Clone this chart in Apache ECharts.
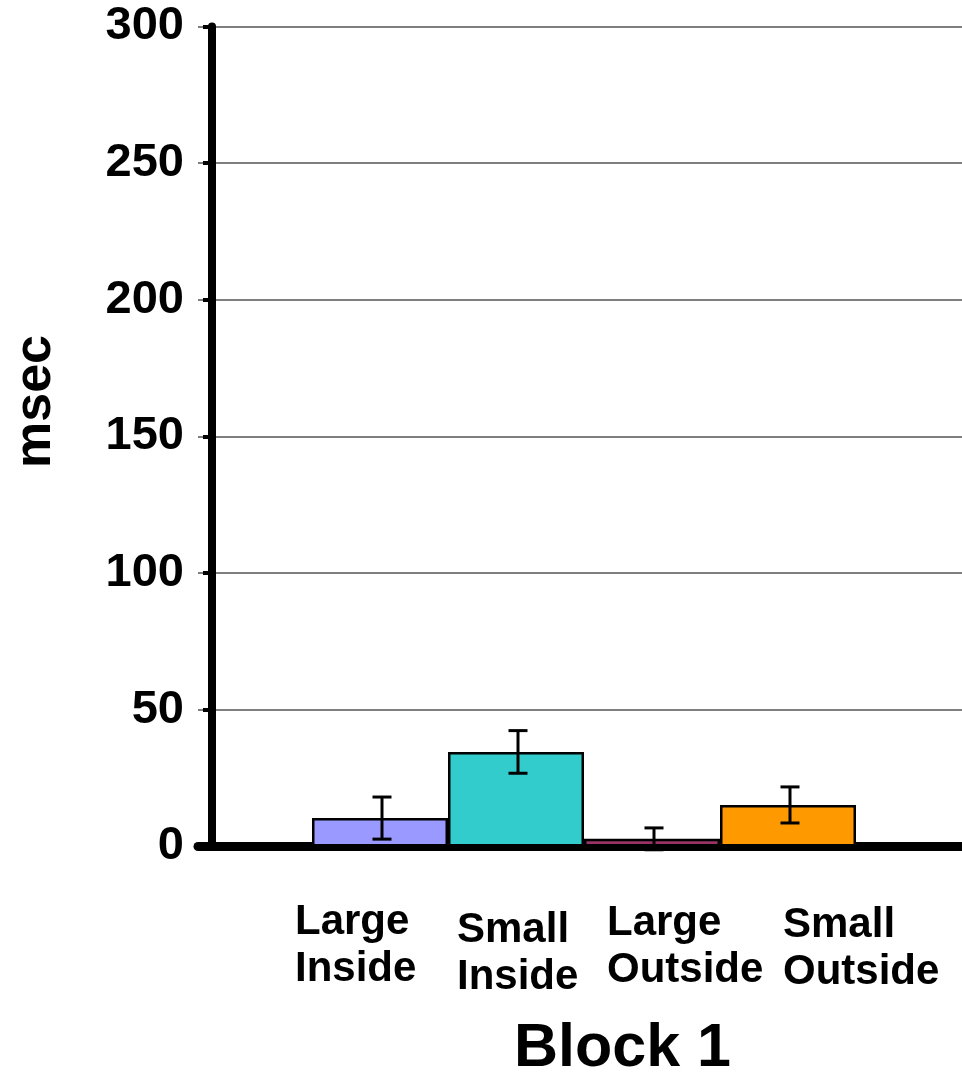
<!DOCTYPE html>
<html>
<head>
<meta charset="utf-8">
<script src="https://cdn.jsdelivr.net/npm/echarts@6/dist/echarts.min.js"></script>
<style>
  html, body { margin: 0; padding: 0; background: #fff; }
  #chart { width: 962px; height: 1072px; }
</style>
</head>
<body>
<div id="chart"></div>
<script>
// data
const categories = ['Large\nInside', 'Small\nInside', 'Large\nOutside', 'Small\nOutside']
const means = [10.4, 34.6, 2.8, 15.2]
const errors = [7.7, 7.8, 4.0, 6.6]
const barColors = ['#9999FF', '#33CCCC', '#993366', '#FF9900']
const yMin = 0
const yMax = 300
const yStep = 50
const xTitle = 'Block 1'
const yTitle = 'msec'

const font = "'Liberation Sans', Arial, sans-serif"
const plotTop = 26.5
const plotBottom = 1072 - 846.5

// label nudges so the labels sit where they are in the picture
const labelPad = [[0, 0, 0, 20], [8, 0, 0, 32], [1, 0, 0, 32], [3, 0, 0, 58]]

const chart = echarts.init(document.getElementById('chart'))

const hiddenY = (gridIndex) => ({
    type: 'value', gridIndex, min: yMin, max: yMax, interval: yStep, show: false
})

const option = {
    animation: false,
    backgroundColor: '#fff',
    title: {
        text: xTitle,
        left: 509,
        top: 1014,
        textStyle: { fontFamily: font, fontWeight: 'bold', fontSize: 61, color: '#000' }
    },
    grid: [
        { left: 198, right: 0, top: plotTop, bottom: plotBottom },
        { left: 312, right: 106, top: plotTop, bottom: plotBottom },
        { left: 200, width: 600, top: plotTop, bottom: plotBottom }
    ],
    xAxis: [
        {
            type: 'category', gridIndex: 0, data: categories,
            axisLine: { lineStyle: { color: '#000', width: 9 } },
            axisTick: { show: false },
            axisLabel: { show: false }
        },
        {
            type: 'category', gridIndex: 1, data: categories, show: false
        },
        {
            type: 'category', gridIndex: 2,
            data: categories.map((c, i) => ({
                value: c,
                textStyle: { align: 'left', padding: labelPad[i] }
            })),
            axisLine: { show: false },
            axisTick: { show: false },
            axisLabel: {
                interval: 0,
                align: 'left',
                margin: 52,
                fontFamily: font,
                fontWeight: 'bold',
                fontSize: 42,
                lineHeight: 47,
                color: '#000'
            }
        }
    ],
    yAxis: [
        {
            type: 'value', gridIndex: 0, min: yMin, max: yMax, interval: yStep,
            offset: -14,
            name: yTitle,
            nameLocation: 'middle',
            nameRotate: 90,
            nameGap: 150,
            nameTextStyle: {
                fontFamily: font, fontWeight: 'bold', fontSize: 52, color: '#000',
                padding: [0, 0, 0, 70]
            },
            axisLine: { show: true, lineStyle: { color: '#000', width: 8 } },
            axisTick: { show: true, length: 9, lineStyle: { color: '#000', width: 4 } },
            axisLabel: {
                margin: 28,
                padding: [7, 0, 0, 0],
                fontFamily: font, fontWeight: 'bold', fontSize: 47, color: '#000'
            },
            splitLine: { show: true, lineStyle: { color: '#555', width: 1.5 } }
        },
        hiddenY(1),
        hiddenY(2)
    ],
    series: [
        {
            type: 'bar',
            xAxisIndex: 1,
            yAxisIndex: 1,
            barWidth: '100%',
            barCategoryGap: 0,
            data: means.map((v, i) => ({
                value: v,
                itemStyle: { color: barColors[i], borderColor: '#000', borderWidth: 2.5 }
            }))
        },
        {
            type: 'custom',
            xAxisIndex: 1,
            yAxisIndex: 1,
            z: 5,
            data: means.map((m, i) => [i, m - errors[i], m + errors[i]]),
            renderItem: (params, api) => {
                const lo = api.coord([api.value(0), api.value(1)])
                const hi = api.coord([api.value(0), api.value(2)])
                const x = lo[0] + 2
                const cap = 9.5
                const style = { stroke: '#000', lineWidth: 3 }
                return {
                    type: 'group',
                    children: [
                        { type: 'line', shape: { x1: x, y1: lo[1], x2: x, y2: hi[1] }, style },
                        { type: 'line', shape: { x1: x - cap, y1: lo[1], x2: x + cap, y2: lo[1] }, style },
                        { type: 'line', shape: { x1: x - cap, y1: hi[1], x2: x + cap, y2: hi[1] }, style }
                    ]
                }
            }
        }
    ]
}

chart.setOption(option)
</script>
</body>
</html>
